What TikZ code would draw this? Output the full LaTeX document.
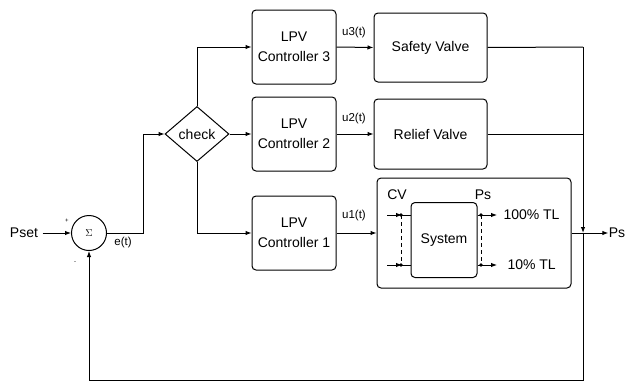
\documentclass[tikz,border=0pt]{standalone}
\usepackage{fontspec}
\setmainfont{Liberation Sans}
\usetikzlibrary{arrows.meta,shapes.geometric}
\begin{document}
\begin{tikzpicture}[x=1pt,y=-1pt,line width=1pt,
  blk/.style={draw,rounded corners=4pt,align=center,inner sep=0pt,font=\fontsize{14}{20}\selectfont},
  txt/.style={inner sep=0pt,font=\fontsize{14}{16}\selectfont},
  lbl/.style={inner sep=0pt,font=\fontsize{11.5}{13}\selectfont},
  arr/.style={-{Latex[length=6pt,width=4.5pt]}},
  dot/.style={circle,fill,inner sep=0pt,minimum size=3.6pt}]
\useasboundingbox (0,0) rectangle (626,383);
% controllers
\node[blk,minimum width=84pt,minimum height=74pt] (c3) at (294,47) {LPV\\Controller 3};
\node[blk,minimum width=84pt,minimum height=74pt] (c2) at (294,134) {LPV\\Controller 2};
\node[blk,minimum width=84pt,minimum height=74pt] (c1) at (294,233) {LPV\\Controller 1};
% valves
\node[blk,minimum width=113pt,minimum height=69pt] (sv) at (430.5,47.5) {Safety Valve};
\node[blk,minimum width=113pt,minimum height=70pt] (rv) at (430.5,134) {Relief Valve};
% plant
\node[blk,minimum width=194pt,minimum height=110pt] (plant) at (474,233) {};
\node[blk,minimum width=66pt,minimum height=75pt] (sys) at (444,240) {System};
\node[txt] (cv) at (397,195) {CV};
\node[txt] (psin) at (483,195) {Ps};
\node[txt,anchor=west] (tl100) at (503,215) {100\% TL};
\node[txt,anchor=west] (tl10) at (507,265) {10\% TL};
% sum and check
\node[circle,draw,minimum size=35pt,inner sep=0pt,font=\fontsize{10}{10}\selectfont] (sum) at (89,233) {$\Sigma$};
\node[txt] (pset) at (24,233) {Pset};
\node[inner sep=0pt,font=\fontsize{6}{6}\selectfont] (plus) at (67,221) {+};
\node[inner sep=0pt,font=\fontsize{6}{6}\selectfont] (minus) at (75,263) {-};
\node[lbl] (et) at (123,243) {e(t)};
\node[diamond,draw,minimum width=64pt,minimum height=55pt,inner sep=0pt,font=\fontsize{14}{16}\selectfont] (chk) at (197,134) {check};
% labels on controller outputs
\node[lbl] (u3) at (354,33) {u3(t)};
\node[lbl] (u2) at (354,119) {u2(t)};
\node[lbl] (u1) at (354,216) {u1(t)};
\node[txt] (psout) at (617,233) {Ps};
% coordinates
\coordinate (jE) at (143,233);
\coordinate (fbTop) at (583,47);
\coordinate (fbMid) at (583,134);
\coordinate (fbJ) at (583,233);
\coordinate (fbBot) at (583,380);
\coordinate (ia1) at (387,215);
\coordinate (ia2) at (387,265);
\coordinate (da1) at (401,215);
\coordinate (da2) at (401,265);
\coordinate (db1) at (481,215);
\coordinate (db2) at (481,265);
\coordinate (ob1) at (497,215);
\coordinate (ob2) at (497,265);
% connectors
\draw[arr] (pset.east) ++(4,0) -- (sum.west);
\draw[arr] (sum.east) -- (jE) |- (chk.west);
\draw[arr] (chk.north) |- (c3.west);
\draw[arr] (chk.east) -- (c2.west);
\draw[arr] (chk.south) |- (c1.west);
\draw[arr] (c3.east) -- (sv.west);
\draw[arr] (c2.east) -- (rv.west);
\draw[arr] (c1.east) -- (plant.west);
\draw (sv.east) -- (fbTop);
\draw (rv.east) -- (fbMid);
\draw[arr] (fbTop) -- (fbJ);
\draw[arr] (plant.east) -- (psout.west);
\draw[arr] (fbJ) -- (fbBot) -| (sum.south);
% plant internals
\draw[arr] (ia1) -- ([xshift=1pt]da1);
\draw[arr] (ia2) -- ([xshift=1pt]da2);
\draw (da1) -- (sys.west |- da1);
\draw (da2) -- (sys.west |- da2);
\draw[arr] (sys.east |- db1) -- (ob1);
\draw[arr] (sys.east |- db2) -- (ob2);
\draw[dashed,dash pattern=on 4pt off 3pt] (da1) -- (da2);
\draw[dashed,dash pattern=on 4pt off 3pt] (db1) -- (db2);
\node[dot] at (da1) {};
\node[dot] at (da2) {};
\node[dot] at (db1) {};
\node[dot] at (db2) {};
\end{tikzpicture}
\end{document}
